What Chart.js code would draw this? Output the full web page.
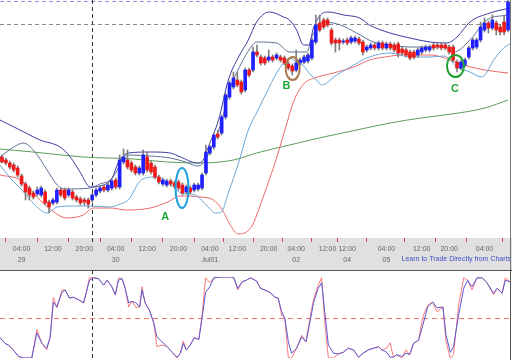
<!DOCTYPE html>
<html><head><meta charset="utf-8">
<script src="https://cdn.jsdelivr.net/npm/chart.js@4.4.0/dist/chart.umd.min.js"></script>
<style>
html,body{margin:0;padding:0;background:#fff;width:512px;height:360px;overflow:hidden}
#c1{position:absolute;left:0;top:0}
#c2{position:absolute;left:0;top:270px}
</style></head><body>
<canvas id="c1" width="512" height="270"></canvas>
<canvas id="c2" width="512" height="90"></canvas>
<script>
// ---- candle data (hourly, relative price units) ----
const opens = [83,80,77,75,72,64,56,52,47,46, 45,48,38,37,38,50,50,45,48,43, 41,40,40,40,45,49,53,50,52,60, 53,78,80,77,73,67,67,83,77,73, 63,56,55,59,57,58,55,48,52,50, 51,52,67,87,93,106,107,123,143,153, 160,158,150,170,170,188,183,182,180,183, 182,183,182,176,174,170,177,178,179,182, 198,217,220,220,210,200,200,198,200,198, 199,201,198,190,192,195,192,197,192,196, 195,196,191,190,188,188,185,188,190,190, 195,195,195,195,193,193,178,172,175,183, 192,193,200,210,217,212,217,213,218,210];
const closes = [78,77,73,70,65,56,48,45,43,50, 52,37,33,40,50,45,42,50,42,40, 37,38,36,45,50,52,50,55,59,53, 80,83,73,70,67,72,85,70,68,63, 58,60,59,56,54,52,47,53,48,55, 55,65,88,93,105,103,123,145,157,162, 155,148,170,165,188,185,177,177,183,180, 185,180,177,172,169,177,180,183,185,200, 215,210,213,215,197,197,197,199,197,202, 202,197,188,193,195,192,197,192,196,192, 190,187,187,185,182,183,190,192,193,193, 192,193,192,192,188,180,172,178,180,192, 200,200,213,217,212,220,210,208,208,238];
const highs = [85,82,79,77,74,66,58,54,49,53, 54,50,40,42,52,52,52,52,50,45, 43,42,42,47,52,54,55,57,61,62, 85,91,90,79,75,74,90,88,79,75, 65,62,61,61,59,60,57,55,54,57, 57,67,95,95,107,110,125,147,159,168, 168,160,172,172,193,195,185,184,190,185, 187,185,184,178,176,190,182,185,187,202, 225,225,222,222,212,202,202,201,202,204, 204,203,200,195,197,197,199,199,198,198, 197,198,193,192,190,190,192,194,195,195, 197,197,197,197,195,195,180,180,182,194, 202,202,218,222,219,225,219,215,225,240];
const lows = [77,75,71,68,63,54,40,40,41,44, 43,35,27,35,36,43,40,43,40,38, 35,35,32,38,43,47,48,48,50,51, 51,76,71,68,65,65,65,68,66,61, 56,54,53,54,52,50,45,46,46,48, 49,50,65,85,91,101,105,121,141,151, 153,146,148,163,168,183,175,175,178,178, 180,178,175,170,165,168,175,176,177,180, 196,208,211,213,195,188,190,196,195,196, 197,195,185,188,190,190,190,190,190,190, 188,183,185,183,180,181,183,186,188,188, 190,191,190,190,186,178,168,170,173,181, 190,191,198,208,207,210,205,205,205,208];

// ---- indicator lines (time in hours, value) ----
const upperT = [-0.5,4.6,9.7,14.8,17.4,19.9,22.5,25,28.1,29.6,32.2,37.8,42.9,45.5,49.8,51.3,52.6,55.2,57.7,60.3,62.8,64.9,68.2,71.8,73.3,75.1,76.9,78.2,79.4,81.2,83.3,87.1,91.2,93.7,98.9,104,109.1,113.4,116,119.3,124.4,129.5];
const upperV = [120,110,100,93,83,68,53,54,62,77,87,88,87,83,77,80,93,120,160,183,200,218,228,223,220,210,195,195,212,225,228,225,222,215,207,202,198,197,203,218,227,232];
const midT = [-0.5,2.6,5.4,8.4,11.5,14.1,16.1,22.5,25,27.6,29.4,30.7,32.7,37.8,42.9,46.8,49.8,51.3,53.1,55.7,58.2,60.8,63.3,64.9,70,73.3,77.7,79.2,82,86.3,90.4,94.7,98.9,104,109.1,112.7,115.2,119.3,123.6,128.7];
const midV = [83,92,97,88,70,55,51,52,56,60,70,82,85,84,82,78,74,77,90,115,152,175,192,198,197,188,188,205,218,215,207,198,195,193,193,193,188,200,220,225];
const lowerT = [-0.5,2.1,5.1,8.4,11.5,14.1,18.7,22.5,27.6,30.2,32.2,35.5,39.1,42.4,45.7,49.3,50.8,52.6,54.4,55.9,57.7,60.3,62.8,64.9,67.4,70,71.8,73.3,75.1,76.9,78.7,80.2,81.5,85.3,89.7,93,98.9,104,109.1,112.7,116,119.3,122.3,125.7,128.2,129.5];
const lowerV = [75,62,50,35,27,33,34,34,33,36,40,60,63,57,47,45,40,33,27,28,47,77,110,127,147,167,177,182,178,174,165,160,155,165,175,182,187,183,183,184,173,168,163,182,193,196];
const redT = [-0.5,4.6,10.5,16.6,20.7,23.3,27.6,31.9,37.8,42.2,45.5,50.6,53.9,56.2,58.2,60.3,62.3,63.9,65.4,67.4,70,72.5,74.3,76.9,79.7,84.5,89.7,93.7,97.6,102.4,109.1,112.9,116.2,119.5,123.1,129];
const redV = [65,60,37,22,25,32,32,30,32,38,44,43,40,30,15,6,8,15,30,52,82,115,138,156,162,167,173,180,183,185,185,182,177,173,170,167];
const greenT = [-0.5,7.9,20.7,33.5,42.2,50.6,59,64.9,73.3,82,90.4,98.9,106.8,114.7,123.1,129];
const greenV = [91,88,83,81,78,77,80,87,95,103,110,117,122,126,132,140];

// ---- stochastic ----
const stochT = [-0.5,0.8,1.6,2.9,4.2,5.5,7.6,8.9,10.2,11.4,12.3,13.1,14,15.3,16.1,17.2,18.2,19.5,20.8,21.5,22.3,23.3,24.6,25.9,26.8,28,28.9,29.7,30.6,31.4,32.3,33.1,34.2,35.1,35.7,36.5,37.6,38.7,39.5,40.8,42.1,43.4,44.6,45.5,46.2,47,48,49,50.2,51,51.9,53,54,55.7,58.2,59.1,60.1,61.2,62.3,63.4,64.9,65.9,67,68.3,69.6,70.4,71.3,72.1,73,73.8,75.1,76.4,77.5,78.5,79.4,80.6,81.5,82.3,83.2,84.5,85.8,87,88.3,89.6,90.9,92.1,93.4,94.7,96,96.8,98.1,98.9,99.8,100.6,101.9,103,103.9,104.9,106.2,107.3,108.5,109.8,110.9,112.4,113.2,114.3,115.1,116.4,117.7,118.7,119.8,121.1,122.4,123.6,125.3,126.2,127.5,128.3,129.5];
const stochK = [25,18,16,10,2,0,0,35,18,10,26,75,62,84,84,74,75,72,68,81,99,99,98,90,96,88,78,99,98,86,63,70,62,63,88,68,59,43,14,16,14,7,0,6,21,10,16,25,23,53,99,93,99,100,100,99,84,94,96,99,95,86,84,81,75,74,53,49,0,0,12,28,20,49,72,90,99,43,0,0,5,7,12,10,1,6,10,12,14,10,12,19,1,4,0,10,4,18,22,51,65,69,57,63,20,0,4,65,99,96,84,99,99,93,78,86,80,99,94];
const stochD = [25,18,16,10,2,0,0,31,18,12,26,69,63,81,84,74,75,72,68,81,96,99,98,90,96,88,78,96,98,86,68,70,68,63,84,68,59,43,26,20,14,7,1,6,18,10,16,25,23,49,81,88,99,100,100,99,86,94,96,99,95,86,84,81,75,74,57,49,20,6,12,26,20,44,68,86,93,56,16,6,5,7,12,10,1,6,10,12,14,10,7,1,1,4,2,6,4,18,22,41,63,69,62,63,28,7,14,53,86,96,88,99,99,93,80,86,80,96,94];
const stochMid = 50;

// ---- axis labels ----
const tickIdx  = [5,13,21,29,37,45,53,60,68,75,83,88,98,107,114,123];
const tickTime = ['04:00','12:00','20:00','04:00','12:00','20:00','04:00','12:00','20:00','04:00','12:00','12:00','04:00','12:00','20:00','04:00'];
const tickDate = ['29','','','30','','','Jul01','','','02','','04','05','','',''];

// ---- reference levels & annotations ----
const levelPrices = [239, 216];
const crossIdx = 23;
const markLabels = ['A','B','C'];
const markIdx = [45.9, 74.1, 115.6];
const markPrice = [52, 171.5, 174];
const letterIdx = [41.6, 72.5, 115.5];
const letterPrice = [23, 154, 151];
const footerText = 'Learn to Trade Directly from Charts';

Chart.defaults.font.family = '"Liberation Sans", Arial, sans-serif';

const hourIdx = opens.map((_, i) => i);
const bodyColors = hourIdx.map(i => closes[i] >= opens[i] ? '#2020ff' : '#ee1a1a');
const pts = (t, v) => t.map((x, i) => ({x, y: v[i]}));
const lineDs = (label, t, v, color) => ({type:'line', label, data: pts(t, v), borderColor: color, borderWidth: 1, pointRadius: 0, cubicInterpolationMode: 'monotone', fill: false, order: 5});

const levelColors = ['#8c8cf0', '#8a8a8a'];
const markColors = ['#1e9edc', '#a8784a', '#22a236'];
const markRadii = [[6.5, 20], [7, 11.5], [8.5, 11]];

const mainDecor = {
  id: 'mainDecor',
  beforeDraw(chart) {
    const {ctx, chartArea: a, width, height} = chart;
    ctx.save();
    ctx.fillStyle = '#e0e0e0';
    ctx.fillRect(0, a.bottom, width, height - a.bottom);
    ctx.restore();
  },
  beforeDatasetsDraw(chart) {
    const {ctx, chartArea: a, scales: {x, y}} = chart;
    ctx.save();
    ctx.lineWidth = 1;
    levelPrices.forEach((v, k) => {
      const py = Math.round(y.getPixelForValue(v)) + 0.5;
      ctx.strokeStyle = levelColors[k];
      ctx.setLineDash([4, 3]);
      ctx.beginPath(); ctx.moveTo(a.left, py); ctx.lineTo(a.right, py); ctx.stroke();
    });
    const px = Math.round(x.getPixelForValue(crossIdx)) + 0.5;
    ctx.strokeStyle = '#333';
    ctx.setLineDash([4, 3]);
    ctx.beginPath(); ctx.moveTo(px, a.top); ctx.lineTo(px, a.bottom + 7); ctx.stroke();
    ctx.restore();
  },
  afterDraw(chart) {
    const {ctx, chartArea: a, scales: {x, y}, height} = chart;
    ctx.save();
    markLabels.forEach((lab, k) => {
      ctx.strokeStyle = markColors[k];
      ctx.lineWidth = 2;
      ctx.beginPath();
      ctx.ellipse(x.getPixelForValue(markIdx[k]), y.getPixelForValue(markPrice[k]), markRadii[k][0], markRadii[k][1], 0, 0, Math.PI * 2);
      ctx.stroke();
      ctx.fillStyle = '#22a83a';
      ctx.font = 'bold 11px "Liberation Sans", Arial, sans-serif';
      ctx.textAlign = 'center'; ctx.textBaseline = 'middle';
      ctx.fillText(lab, x.getPixelForValue(letterIdx[k]), y.getPixelForValue(letterPrice[k]));
    });
    ctx.fillStyle = '#4050c8';
    ctx.font = '7px "Liberation Sans", Arial, sans-serif';
    ctx.textAlign = 'right'; ctx.textBaseline = 'middle';
    ctx.fillText(footerText, 511, a.bottom + 21, 111);
    ctx.strokeStyle = '#777';
    ctx.lineWidth = 1;
    ctx.beginPath(); ctx.moveTo(510.5, 0); ctx.lineTo(510.5, height); ctx.stroke();
    ctx.restore();
  }
};

new Chart(document.getElementById('c1'), {
  type: 'bar',
  data: {datasets: [
    {label: 'wick', data: hourIdx.map(i => ({x: i, y: [lows[i], highs[i]]})), backgroundColor: '#7d7d7d', barThickness: 1, grouped: false, order: 1},
    {label: 'body', data: hourIdx.map(i => ({x: i, y: [opens[i], closes[i]]})), backgroundColor: bodyColors, barThickness: 3, grouped: false, order: 0},
    lineDs('upper', upperT, upperV, '#3c3ca6'),
    lineDs('mid', midT, midV, '#5f6f96'),
    lineDs('lower', lowerT, lowerV, '#6aa6d6'),
    lineDs('red', redT, redV, '#ee6868'),
    lineDs('green', greenT, greenV, '#5a9e5a')
  ]},
  options: {
    responsive: false, animation: false,
    layout: {padding: {left: 0, right: 2, top: 0, bottom: 0}},
    plugins: {legend: {display: false}, tooltip: {enabled: false}},
    scales: {
      x: {
        type: 'linear', min: -0.5, max: 129.5, offset: false,
        border: {display: false},
        grid: {display: true, drawOnChartArea: false, drawTicks: true, tickLength: 4, tickColor: '#d84a4a', color: '#d84a4a'},
        ticks: {autoSkip: false, maxRotation: 0, minRotation: 0, padding: 2, color: '#666',
          font: {size: 7, lineHeight: 1.55},
          callback: (v, i) => [tickTime[i], tickDate[i]]},
        afterBuildTicks: s => { s.ticks = tickIdx.map(v => ({value: v})); },
        afterFit: s => { s.height = 32; }
      },
      y: {min: 2, max: 240, display: false}
    }
  },
  plugins: [mainDecor]
});

const stochDecor = {
  id: 'stochDecor',
  beforeDatasetsDraw(chart) {
    const {ctx, chartArea: a, scales: {x, y}, height} = chart;
    ctx.save();
    ctx.lineWidth = 1;
    const py = Math.round(y.getPixelForValue(stochMid)) + 0.5;
    ctx.strokeStyle = '#f07070';
    ctx.setLineDash([5, 4]);
    ctx.beginPath(); ctx.moveTo(a.left, py); ctx.lineTo(a.right, py); ctx.stroke();
    const px = Math.round(x.getPixelForValue(crossIdx)) + 0.5;
    ctx.strokeStyle = '#333';
    ctx.setLineDash([4, 3]);
    ctx.beginPath(); ctx.moveTo(px, 0); ctx.lineTo(px, height); ctx.stroke();
    ctx.restore();
  },
  afterDraw(chart) {
    const {ctx, width, height} = chart;
    ctx.save();
    ctx.strokeStyle = '#555';
    ctx.lineWidth = 1;
    ctx.beginPath(); ctx.moveTo(0, 0.5); ctx.lineTo(width, 0.5); ctx.stroke();
    ctx.beginPath(); ctx.moveTo(510.5, 0); ctx.lineTo(510.5, height); ctx.stroke();
    ctx.restore();
  }
};

new Chart(document.getElementById('c2'), {
  type: 'line',
  data: {datasets: [
    {label: '%D', data: pts(stochT, stochD), borderColor: '#5858d8', borderWidth: 1, pointRadius: 0, tension: 0, order: 0},
    {label: '%K', data: pts(stochT, stochK), borderColor: '#ff7a7a', borderWidth: 1, pointRadius: 0, tension: 0, order: 1}
  ]},
  options: {
    responsive: false, animation: false,
    layout: {padding: {left: 0, right: 2, top: 7, bottom: 2}},
    plugins: {legend: {display: false}, tooltip: {enabled: false}},
    scales: {
      x: {type: 'linear', min: -0.5, max: 129.5, display: false},
      y: {min: 0, max: 100, display: false}
    }
  },
  plugins: [stochDecor]
});
</script>
</body></html>
